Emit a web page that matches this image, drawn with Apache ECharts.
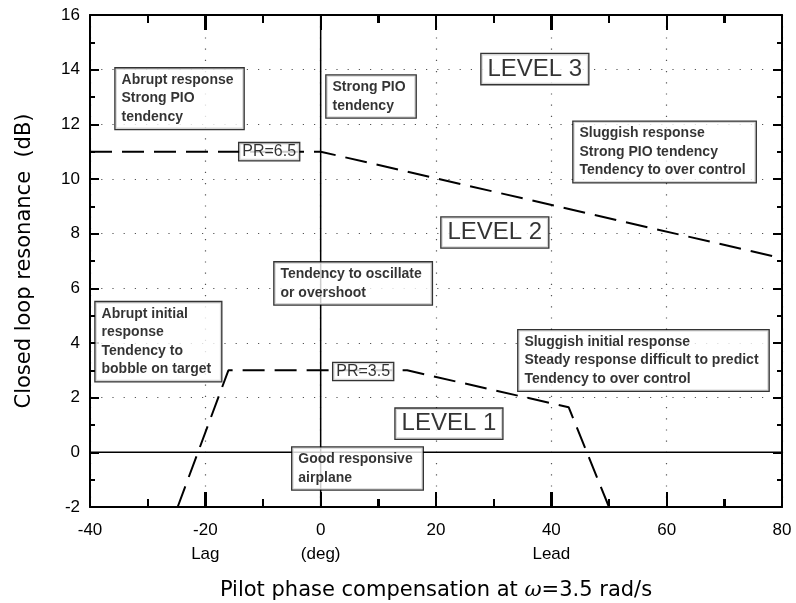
<!DOCTYPE html>
<html>
<head>
<meta charset="utf-8">
<script src="https://cdn.jsdelivr.net/npm/echarts@6/dist/echarts.min.js"></script>
<style>html,body{margin:0;padding:0;background:#fff;}#c{width:796px;height:603px;}</style>
</head>
<body>
<div id="c"></div>
<script>
// ---- data ----
const xTicks = [-40, -20, 0, 20, 40, 60, 80];
const yTicks = [-2, 0, 2, 4, 6, 8, 10, 12, 14, 16];
const xSecondLine = { '-20': 'Lag', '0': '(deg)', '40': 'Lead' };
const pr65Line = [[-40, 11], [0, 11], [80, 7.1]];
const pr35Line = [[-24.8, -2], [-16, 3], [15, 3], [43, 1.65], [50, -2]];
const zeroPhase = [[0, -2], [0, 16]];
const zeroDb = [[-40, 0], [80, 0]];
const noteTexts = [
  'Abrupt response\nStrong PIO\ntendency',
  'Strong PIO\ntendency',
  'LEVEL 3',
  'Sluggish response\nStrong PIO tendency\nTendency to over control',
  'LEVEL 2',
  'Tendency to oscillate\nor overshoot',
  'Abrupt initial\nresponse\nTendency to\nbobble on target',
  'Sluggish initial response\nSteady response difficult to predict\nTendency to over control',
  'LEVEL 1',
  'Good responsive\nairplane',
  'PR=6.5',
  'PR=3.5'
];
const noteX = [-35.66, 0.92, 27.8, 43.75, 20.86, -8.1, -39.13, 34.2, 12.9, -5.0, -14.2, 2.1];
const noteY = [12.94, 13.02, 14.02, 10.99, 8.04, 6.18, 4.05, 3.36, 1.05, -0.59, 11.0, 2.96];
const noteKind = ['t', 't', 'L', 't', 'L', 't', 't', 't', 'L', 't', 'p', 'p'];

// ---- chart ----
const FONT = '"Liberation Sans", Arial, sans-serif';
const NAMEFONT = '"DejaVu Sans", "Liberation Sans", sans-serif';
const X_MIN = xTicks[0], X_MAX = xTicks[xTicks.length - 1];
const Y_MIN = yTicks[0], Y_MAX = yTicks[yTicks.length - 1];
const kindStyle = {
  t: { fontSize: 14, fontWeight: 'bold', lineHeight: 18.5, padding: [3, 10, 2, 6] },
  L: { fontSize: 24, fontWeight: 'normal', lineHeight: 27, padding: [2, 6, 1, 6] },
  p: { fontSize: 16, fontWeight: 'normal', lineHeight: 17, padding: [0, 3, 0, 3] }
};
const noteData = noteTexts.map((t, i) => ({
  value: [noteX[i], noteY[i]],
  label: Object.assign({
    show: true, position: 'right', distance: 0, formatter: t,
    color: '#000', fontFamily: FONT, align: 'left',
    backgroundColor: '#fff', borderColor: '#000', borderWidth: 1.3
  }, kindStyle[noteKind[i]])
}));

// tick positions along x (major ticks and midpoints between them), frame edges excluded
const xTickMarks = [];
for (let i = 0; i < xTicks.length - 1; i++) {
  if (i > 0) xTickMarks.push([xTicks[i], 1]);
  xTickMarks.push([(xTicks[i] + xTicks[i + 1]) / 2, 0]);
}

const gridDots = () => ({ show: true, lineStyle: { color: '#555', width: 1.2, type: [1.2, 10] } });
const frameLine = () => ({ show: true, onZero: false, lineStyle: { color: '#000', width: 2 } });
const majorTick = (len) => ({ show: true, inside: true, length: len, lineStyle: { color: '#000', width: 2 } });
const minorTick = (len) => ({ show: true, splitNumber: 2, length: len, lineStyle: { color: '#000', width: 2 } });

const chart = echarts.init(document.getElementById('c'));
chart.setOption({
  animation: false,
  backgroundColor: '#fff',
  grid: { left: 90, right: 14, top: 15, bottom: 96, outerBoundsMode: 'none' },
  xAxis: [{
    type: 'value', min: X_MIN, max: X_MAX, interval: 20,
    axisLine: frameLine(),
    axisTick: majorTick(15),
    minorTick: minorTick(8),
    splitLine: gridDots(),
    axisLabel: {
      fontSize: 17, color: '#000', fontFamily: FONT, margin: 11, lineHeight: 24,
      formatter: v => xSecondLine[String(v)] ? v + '\n' + xSecondLine[String(v)] : String(v)
    },
    name: '{a|Pilot phase compensation at }{w|ω}{a|=3.5 rad/s}',
    nameLocation: 'middle', nameGap: 73,
    nameTextStyle: {
      rich: {
        a: { fontSize: 21, color: '#000', fontFamily: NAMEFONT },
        w: { fontSize: 21, color: '#000', fontFamily: '"DejaVu Serif", "Liberation Serif", serif', fontStyle: 'italic' }
      }
    }
  }, {
    type: 'value', position: 'top', min: X_MIN, max: X_MAX, interval: 20,
    axisLine: frameLine(),
    axisTick: majorTick(15),
    minorTick: minorTick(8),
    splitLine: { show: false }, axisLabel: { show: false }
  }],
  yAxis: [{
    type: 'value', min: Y_MIN, max: Y_MAX, interval: 2,
    axisLine: frameLine(),
    axisTick: majorTick(9),
    minorTick: minorTick(5),
    splitLine: gridDots(),
    axisLabel: { fontSize: 17, color: '#000', fontFamily: FONT, margin: 10 },
    name: 'Closed loop resonance  (dB)',
    nameLocation: 'middle', nameGap: 55,
    nameTextStyle: { fontSize: 21, color: '#000', fontFamily: NAMEFONT }
  }, {
    type: 'value', position: 'right', min: Y_MIN, max: Y_MAX, interval: 2,
    axisLine: frameLine(),
    axisTick: majorTick(9),
    minorTick: minorTick(5),
    splitLine: { show: false }, axisLabel: { show: false }
  }],
  series: [
    { type: 'line', data: zeroPhase, symbol: 'none', z: 2, lineStyle: { color: '#000', width: 1.5 }, silent: true },
    { type: 'line', data: zeroDb, symbol: 'none', z: 2, lineStyle: { color: '#000', width: 1.5 }, silent: true },
    { type: 'line', data: pr65Line, symbol: 'none', z: 3, lineStyle: { color: '#000', width: 2, type: [22, 10] }, silent: true },
    { type: 'line', data: pr35Line, symbol: 'none', z: 3, lineStyle: { color: '#000', width: 2, type: [22, 10] }, silent: true },
    {
      type: 'custom', data: xTickMarks, z: 4, silent: true,
      renderItem: function (params, api) {
        const v = api.value(0);
        const len = api.value(1) ? 15 : 8;
        const x = Math.round(api.coord([v, Y_MIN])[0]);
        const yb = api.coord([v, Y_MIN])[1];
        const yt = api.coord([v, Y_MAX])[1];
        return {
          type: 'group',
          children: [
            { type: 'line', shape: { x1: x, y1: yb, x2: x, y2: yb - len }, style: { stroke: '#000', lineWidth: 2 } },
            { type: 'line', shape: { x1: x, y1: yt, x2: x, y2: yt + len }, style: { stroke: '#000', lineWidth: 2 } }
          ]
        };
      }
    },
    { type: 'scatter', data: noteData, symbolSize: 1, z: 10, itemStyle: { color: 'rgba(0,0,0,0)' }, silent: true }
  ]
});
</script>
</body>
</html>
